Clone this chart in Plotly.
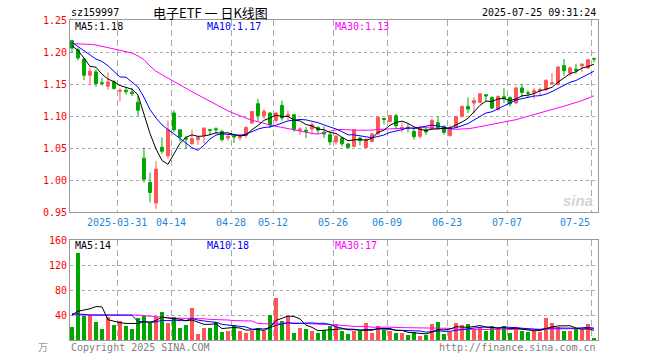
import plotly.graph_objects as go
import pandas as pd

# ---------------- data ----------------
dates = [
    "2025-03-19", "2025-03-20", "2025-03-21", "2025-03-24", "2025-03-25", "2025-03-26", "2025-03-27", "2025-03-28", "2025-03-31",
    "2025-04-01", "2025-04-02", "2025-04-03", "2025-04-07", "2025-04-08", "2025-04-09", "2025-04-10", "2025-04-11", "2025-04-14",
    "2025-04-15", "2025-04-16", "2025-04-17", "2025-04-18", "2025-04-21", "2025-04-22", "2025-04-23", "2025-04-24", "2025-04-25",
    "2025-04-28", "2025-04-29", "2025-04-30",
    "2025-05-06", "2025-05-07", "2025-05-08", "2025-05-09", "2025-05-12", "2025-05-13", "2025-05-14", "2025-05-15", "2025-05-16",
    "2025-05-19", "2025-05-20", "2025-05-21", "2025-05-22", "2025-05-23", "2025-05-26", "2025-05-27", "2025-05-28", "2025-05-29",
    "2025-05-30",
    "2025-06-03", "2025-06-04", "2025-06-05", "2025-06-06", "2025-06-09", "2025-06-10", "2025-06-11", "2025-06-12", "2025-06-13",
    "2025-06-16", "2025-06-17", "2025-06-18", "2025-06-19", "2025-06-20", "2025-06-23", "2025-06-24", "2025-06-25", "2025-06-26",
    "2025-06-27", "2025-06-30",
    "2025-07-01", "2025-07-02", "2025-07-03", "2025-07-04", "2025-07-07", "2025-07-08", "2025-07-09", "2025-07-10", "2025-07-11",
    "2025-07-14", "2025-07-15", "2025-07-16", "2025-07-17", "2025-07-18", "2025-07-21", "2025-07-22", "2025-07-23", "2025-07-24",
    "2025-07-25",
]

opens = [1.2177, 1.2036, 1.189, 1.1637, 1.1689, 1.152, 1.1466, 1.1533, 1.1387, 1.1403,
         1.1372, 1.1216, 1.034, 0.996, 0.964, 1.051, 1.0378, 1.1047, 1.0786, 1.0656,
         1.0567, 1.063, 1.0697, 1.0786, 1.080, 1.076, 1.0656, 1.0692, 1.066, 1.0697,
         1.0891, 1.1192, 1.1005, 1.1047, 1.0931, 1.1166, 1.0994, 1.102, 1.0776, 1.0776,
         1.0797, 1.0822, 1.0744, 1.0708, 1.0594, 1.0656, 1.0563, 1.0525, 1.0656, 1.051,
         1.0603, 1.0719, 1.0963, 1.0916, 1.1005, 1.0802, 1.0822, 1.0760, 1.0682, 1.0786,
         1.0802, 1.0895, 1.0838, 1.0697, 1.0822, 1.0994, 1.115, 1.1203, 1.1213, 1.1333,
         1.129, 1.1098, 1.1301, 1.129, 1.1203, 1.1438, 1.1364, 1.1369, 1.1395, 1.1411,
         1.1504, 1.1489, 1.1786, 1.1672, 1.1733, 1.1786, 1.175, 1.19]

highs = [1.2185, 1.206, 1.191, 1.175, 1.1725, 1.1595, 1.168, 1.156, 1.1434, 1.1455,
         1.144, 1.131, 1.0505, 1.0116, 1.0297, 1.0666, 1.0931, 1.1088, 1.0786, 1.0688,
         1.0786, 1.0682, 1.0813, 1.079, 1.0823, 1.0786, 1.070, 1.0703, 1.0708, 1.0838,
         1.1072, 1.1266, 1.111, 1.1057, 1.1057, 1.124, 1.1083, 1.102, 1.0827, 1.0827,
         1.090, 1.0838, 1.0838, 1.0734, 1.0708, 1.0672, 1.0578, 1.0797, 1.0672, 1.0656,
         1.0734, 1.0994, 1.0963, 1.102, 1.1031, 1.090, 1.0874, 1.0812, 1.085, 1.0822,
         1.0964, 1.0994, 1.0854, 1.0854, 1.1005, 1.1166, 1.129, 1.129, 1.1348, 1.1343,
         1.1306, 1.1322, 1.1436, 1.1306, 1.1464, 1.1503, 1.140, 1.1438, 1.1443, 1.1577,
         1.167, 1.1777, 1.189, 1.1777, 1.1817, 1.1812, 1.189, 1.19]

lows = [1.1984, 1.187, 1.156, 1.148, 1.1455, 1.148, 1.141, 1.1413, 1.123, 1.1335,
        1.131, 1.0998, 0.996, 0.965, 0.9547, 1.0411, 1.0333, 1.0744, 1.0603, 1.0484,
        1.055, 1.055, 1.057, 1.0697, 1.072, 1.060, 1.0614, 1.0578, 1.0614, 1.0656,
        1.0874, 1.0916, 1.0954, 1.0812, 1.090, 1.0928, 1.0938, 1.0755, 1.0708, 1.0656,
        1.0708, 1.0718, 1.0656, 1.0542, 1.0552, 1.0526, 1.0489, 1.051, 1.0541, 1.050,
        1.0593, 1.0708, 1.087, 1.0906, 1.0791, 1.0744, 1.0744, 1.063, 1.0646, 1.0708,
        1.0786, 1.0786, 1.0708, 1.0676, 1.0811, 1.0978, 1.1046, 1.1036, 1.1203, 1.1228,
        1.111, 1.1088, 1.1202, 1.115, 1.1192, 1.1295, 1.1295, 1.127, 1.1322, 1.140,
        1.1489, 1.1489, 1.163, 1.162, 1.1656, 1.1683, 1.174, 1.1838]

closes = [1.2062, 1.1907, 1.1637, 1.170, 1.1507, 1.151, 1.1533, 1.1429, 1.140, 1.138,
          1.135, 1.109, 1.0012, 0.9805, 1.0172, 1.0449, 1.0786, 1.0786, 1.0672, 1.064,
          1.0645, 1.0666, 1.0813, 1.0775, 1.0786, 1.063, 1.0682, 1.0672, 1.0686, 1.0822,
          1.1072, 1.1009, 1.1072, 1.0864, 1.1047, 1.0969, 1.102, 1.0786, 1.0797, 1.076,
          1.0864, 1.078, 1.0718, 1.0594, 1.0682, 1.0567, 1.051, 1.0786, 1.0614, 1.063,
          1.0719, 1.0978, 1.0947, 1.1005, 1.0849, 1.0822, 1.0802, 1.0677, 1.0813, 1.075,
          1.0931, 1.0822, 1.0744, 1.0822, 1.0989, 1.115, 1.111, 1.124, 1.1348, 1.1313,
          1.1125, 1.1306, 1.1275, 1.1188, 1.1438, 1.1369, 1.1358, 1.1395, 1.1411, 1.1556,
          1.152, 1.1766, 1.1708, 1.175, 1.1712, 1.1812, 1.188, 1.189]

volumes = [21, 139, 38.7, 40, 29, 18, 36.6, 24, 31, 23,
           18, 36, 38.7, 27, 36.6, 45.6, 27.6, 37, 19.6, 24,
           52, 10, 19.6, 19.6, 29, 13, 15, 24, 15, 12,
           15, 19, 15, 40, 67, 31, 38.7, 11.7, 20, 17,
           14, 11.7, 16.5, 21.7, 25.4, 13.8, 10, 15, 13.8, 27.6,
           11.7, 22.8, 16.4, 13.8, 11.7, 11.7, 8.5, 13.3, 6.9, 8.5,
           26, 29, 10, 13.3, 27.6, 24.4, 26, 16.4, 21.2, 14.8,
           22.8, 18, 22.8, 11.7, 19.6, 14.8, 13.3, 14.8, 13.3, 35.5,
           27.6, 21.2, 14.8, 14.8, 18, 16.4, 26, 2]

# moving-average values before enough in-window days exist
ma5_head = [1.2098, 1.2025, 1.1906, 1.1775]
ma10_head = [1.215, 1.2088, 1.2025, 1.1958, 1.189, 1.1853, 1.1786, 1.1697, 1.161]
ma30_head = [1.213, 1.213, 1.212, 1.212, 1.211, 1.209, 1.207, 1.205, 1.2036, 1.201,
             1.1984, 1.194, 1.188, 1.178, 1.170, 1.1645, 1.159, 1.154, 1.149, 1.1438,
             1.138, 1.133, 1.128, 1.123, 1.117, 1.113, 1.108, 1.104, 1.100]
vol_ma5_head = [40, 46, 48, 50]
vol_ma10_head = [42, 42, 41, 40, 40, 40, 39, 39, 39]
vol_ma30_head = [40, 40, 41, 41, 41, 41, 41, 41, 41, 40, 40, 40, 39, 38, 37, 36, 35, 35,
                 35, 35, 35, 34, 34, 33, 33, 32, 32, 31, 31]

tick_dates = ["2025-03-31", "2025-04-14", "2025-04-28", "2025-05-12", "2025-05-26",
              "2025-06-09", "2025-06-23", "2025-07-07", "2025-07-25"]
tick_labels = ["2025-03-31", "04-14", "04-28", "05-12", "05-26", "06-09", "06-23", "07-07", "07-25"]
price_ticks = [0.95, 1.00, 1.05, 1.10, 1.15, 1.20, 1.25]
vol_ticks = [40, 80, 120, 160]

price_legend = ["MA5:1.18", "MA10:1.17", "MA30:1.13"]
vol_legend = ["MA5:14", "MA10:18", "MA30:17"]


# ---------------- helpers ----------------
def moving_avg(vals, n, head):
    s = pd.Series(vals, dtype=float).rolling(n).mean().tolist()
    return list(head) + s[n - 1:]


idx = list(range(len(dates)))
ma5 = moving_avg(closes, 5, ma5_head)
ma10 = moving_avg(closes, 10, ma10_head)
ma30 = moving_avg(closes, 30, ma30_head)
vma5 = moving_avg(volumes, 5, vol_ma5_head)
vma10 = moving_avg(volumes, 10, vol_ma10_head)
vma30 = moving_avg(volumes, 30, vol_ma30_head)

RED = "#ff5555"
GREEN = "#00a600"
bar_colors = [RED if c >= o else GREEN for o, c in zip(opens, closes)]
tick_pos = [dates.index(d) - 0.42 for d in tick_dates]

W, H = 660, 360
ML, MR, MT, MB = 70, 62, 20, 20
PW, PH = W - ML - MR, H - MT - MB


def px(x):
    return (x - ML) / PW


def py(y):
    return (H - MB - y) / PH


MONO = "DejaVu Sans Mono"
fig = go.Figure()

fig.add_trace(go.Candlestick(
    x=idx, open=opens, high=highs, low=lows, close=closes,
    increasing=dict(line=dict(color=RED, width=1), fillcolor=RED),
    decreasing=dict(line=dict(color=GREEN, width=1), fillcolor=GREEN),
    whiskerwidth=0, xaxis="x", yaxis="y", showlegend=False, hoverinfo="skip",
))
for vals, col in [(ma30, "#ff00ff"), (ma10, "#0000ff"), (ma5, "#000000")]:
    fig.add_trace(go.Scatter(x=idx, y=vals, mode="lines", line=dict(color=col, width=1),
                             xaxis="x", yaxis="y", showlegend=False, hoverinfo="skip"))

fig.add_trace(go.Bar(x=idx, y=volumes, marker=dict(color=bar_colors, line=dict(width=0)),
                     width=0.8, xaxis="x2", yaxis="y2", showlegend=False, hoverinfo="skip"))
for vals, col in [(vma30, "#ff00ff"), (vma10, "#0000ff"), (vma5, "#000000")]:
    fig.add_trace(go.Scatter(x=idx, y=vals, mode="lines", line=dict(color=col, width=1),
                             xaxis="x2", yaxis="y2", showlegend=False, hoverinfo="skip"))

xr = [-0.33, len(dates) - 1 + 0.67]
axis_common = dict(showline=True, mirror=True, linecolor="#999999", linewidth=1, zeroline=False,
                   ticks="", gridcolor="#aaaaaa")

fig.update_layout(
    width=W, height=H, margin=dict(l=ML, r=MR, t=MT, b=MB),
    paper_bgcolor="white", plot_bgcolor="white", bargap=0, boxgap=0.3,
    xaxis=dict(domain=[0, 1], anchor="y", range=xr, tickvals=tick_pos, showticklabels=False,
               showgrid=True, griddash="6px,4px", rangeslider=dict(visible=False), **axis_common),
    yaxis=dict(domain=[py(212), 1], anchor="x", range=[0.95, 1.25], tickvals=price_ticks,
               ticktext=[f"{v:.2f}" for v in price_ticks], tickfont=dict(family=MONO, size=10, color="#ff0000"),
               showgrid=True, griddash="dot", **axis_common),
    xaxis2=dict(domain=[0, 1], anchor="y2", range=xr, tickvals=tick_pos, showticklabels=False,
                showgrid=True, griddash="6px,4px", matches="x", **axis_common),
    yaxis2=dict(domain=[0, py(240)], anchor="x2", range=[0, 160], tickvals=vol_ticks,
                ticktext=[str(v) for v in vol_ticks], tickfont=dict(family=MONO, size=10, color="#ff0000"),
                showgrid=True, griddash="dot", **axis_common),
)

ann = []


def add_text(text, x, y, color="#000000", size=10, xanchor="left", family=MONO, **kw):
    ann.append(dict(text=text, x=px(x), y=py(y), xref="paper", yref="paper", showarrow=False,
                    xanchor=xanchor, yanchor="middle", font=dict(family=family, size=size, color=color), **kw))


# date labels under the price panel (last one kept inside the frame)
for i, (pos, lab) in enumerate(zip(tick_pos, tick_labels)):
    last = i == len(tick_labels) - 1
    ann.append(dict(text=lab, x=pos + (0.1 if last else 0), y=py(222), xref="x", yref="paper",
                    showarrow=False, xanchor="right" if last else "center", yanchor="middle",
                    font=dict(family=MONO, size=10, color="#1e88d8")))

add_text("sz159997", 69, 12)
add_text("电子ETF 一 日K线图", 210, 12, size=13, xanchor="center", family="Noto Sans CJK SC")
add_text("2025-07-25 09:31:24", 598, 12, xanchor="right")

leg_x = [73, 205, 333]
leg_c = ["#000000", "#0000ff", "#ff00ff"]
for t, x, c in zip(price_legend, leg_x, leg_c):
    add_text(t, x, 27, color=c)
for t, x, c in zip(vol_legend, leg_x, leg_c):
    add_text(t, x, 245, color=c)

add_text("万", 43, 346, color="#999999", size=10, xanchor="center", family="Noto Sans CJK SC")
add_text("Copyright 2025 SINA.COM", 69, 347, color="#808080")
add_text("http://finance.sina.com.cn", 598, 347, color="#808080", xanchor="right")
add_text("<b><i>sina</i></b>", 578, 200, color="#d4d4d4", size=15, xanchor="center", family="Liberation Sans")

fig.update_layout(annotations=ann)
fig.write_html("out.html", config={"displayModeBar": False},
               post_script="document.body.style.margin='0';")
